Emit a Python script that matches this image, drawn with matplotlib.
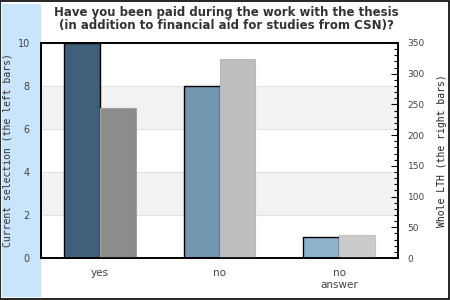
import matplotlib
matplotlib.use('Agg')
from matplotlib import pyplot as plt
from matplotlib.ticker import MultipleLocator

categories = ['yes', 'no', 'no\nanswer']
current = [10, 8, 1]            # left bars, left axis
whole_lth = [245, 324, 37]      # right bars, right axis

left_colors = ['#3f5f7a', '#7295b0', '#8fb2cd']
right_colors = ['#8c8c8c', '#bebebe', '#cbcbcb']

fig = plt.figure(figsize=(4.5, 3), dpi=100)

# light blue strip on the left and black frame
fig.patches.append(plt.Rectangle((2 / 450, 4 / 300), 38 / 450, 292 / 300,
                                 transform=fig.transFigure, color='#c9e5fb', zorder=-2))
fig.patches.append(plt.Rectangle((0.001, 0.002), 0.997, 0.995, transform=fig.transFigure,
                                 fill=False, edgecolor='black', linewidth=1.2, zorder=5))

ax = fig.add_axes([41 / 450, 42 / 300, 357 / 450, 215 / 300])
ax2 = ax.twinx()

# alternating grey bands
for lo, hi in [(2, 4), (6, 8)]:
    ax.axhspan(lo, hi, facecolor='#f2f2f2', edgecolor='#e2e2e2', linewidth=0.8, zorder=0)

x = list(range(len(categories)))
w = 0.3
ax.bar([i - w / 2 for i in x], current, width=w, color=left_colors,
       edgecolor='black', linewidth=1, zorder=2)
ax2.bar([i + w / 2 for i in x], whole_lth, width=w, color=right_colors,
        edgecolor=['#a0a0a0', '#b8b8b8', '#c2c2c2'], linewidth=0.8, zorder=2)

ax.set_xlim(-0.49, 2.49)
ax.set_ylim(0, 10)
ax2.set_ylim(0, 350)

ax.set_yticks([0, 2, 4, 6, 8, 10])
ax.tick_params(axis='y', length=0, labelsize=7, labelcolor='#444444', pad=8)
ax.set_xticks(x)
ax.set_xticklabels(categories, linespacing=1.3)
ax.tick_params(axis='x', length=0, labelsize=7.5, labelcolor='#444444', pad=7)

ax2.yaxis.set_major_locator(MultipleLocator(50))
ax2.yaxis.set_minor_locator(MultipleLocator(10))
ax2.tick_params(axis='y', which='major', direction='in', length=5, width=0.8,
                labelsize=6.5, labelcolor='#444444', pad=7)
ax2.tick_params(axis='y', which='minor', direction='in', length=3, width=0.8)

for a in (ax, ax2):
    for s in a.spines.values():
        s.set_linewidth(1.2)
        s.set_color('black')

ax.set_ylabel('Current selection (the left bars)', family='DejaVu Sans Mono',
              fontsize=7, color='#333333')
ax.yaxis.set_label_coords(-0.08, 0.5)
ax2.set_ylabel('Whole LTH (the right bars)', family='DejaVu Sans Mono',
               fontsize=7, color='#222222')
ax2.yaxis.set_label_coords(1.11, 0.5)

fig.text(226 / 450, 0.937,
         'Have you been paid during the work with the thesis\n(in addition to financial aid for studies from CSN)?',
         ha='center', va='center', fontsize=8.5, fontweight='bold', color='#333333',
         linespacing=1.05)

fig.savefig('out.png', dpi=100)
